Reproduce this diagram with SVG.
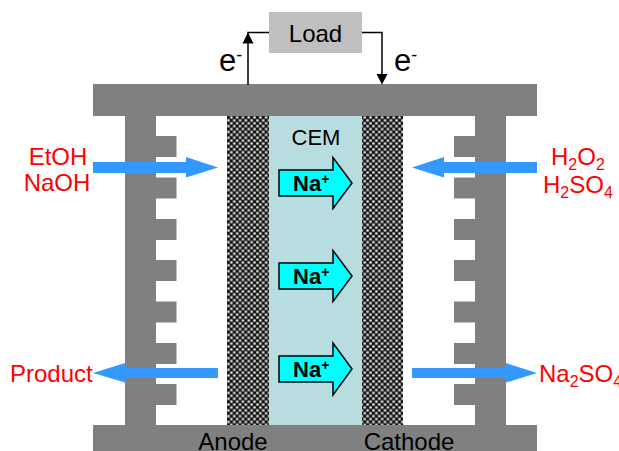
<svg xmlns="http://www.w3.org/2000/svg" width="619" height="451" viewBox="0 0 619 451">
<style>
.plate{fill:#808080}
.blue{fill:#3399ff}
.ion{fill:#00ffff;stroke:#000;stroke-width:1.5;stroke-linejoin:miter}
.wire{fill:none;stroke:#000;stroke-width:1.5}
text{font-family:"Liberation Sans",Arial,sans-serif}
.t{font-size:24px;fill:#000}
.c{font-size:22px;fill:#000}
.e{font-size:31px;fill:#000}
.sup{font-size:18px}
.r{font-size:24px;fill:#ff0000}
.sub{font-size:16px}
.n{font-size:22px;font-weight:bold;fill:#000}
.nsup{font-size:14px}
</style>
<defs>
<pattern id="mesh" x="227" y="116" width="5.8" height="5.8" patternUnits="userSpaceOnUse">
<rect width="5.8" height="5.8" fill="#2a2a2a"/>
<circle cx="1.45" cy="1.45" r="1.05" fill="#000"/>
<circle cx="4.35" cy="4.35" r="1.05" fill="#000"/>
<circle cx="4.35" cy="1.45" r="1.25" fill="#e8e8e8"/>
<circle cx="1.45" cy="4.35" r="1.25" fill="#e8e8e8"/>
</pattern>
</defs>
<rect width="619" height="451" fill="#fff"/>
<g id="membrane">
<rect x="269" y="116" width="93" height="309" fill="#b7dde1"/>
<text class="c" x="316" y="145" text-anchor="middle">CEM</text>
</g>
<g id="anode-layer"><rect x="227" y="116" width="42" height="309" fill="url(#mesh)"/></g>
<g id="cathode-layer"><rect x="362" y="116" width="41" height="309" fill="url(#mesh)"/></g>
<g id="left-plate" class="plate">
<rect x="125" y="116" width="31" height="309"/>
<rect x="156" y="136" width="20.500" height="21"/>
<rect x="156" y="177.500" width="20.500" height="21"/>
<rect x="156" y="219" width="20.500" height="21"/>
<rect x="156" y="260" width="20.500" height="21"/>
<rect x="156" y="301.500" width="20.500" height="21"/>
<rect x="156" y="343" width="20.500" height="21"/>
<rect x="156" y="384" width="20.500" height="21"/>
</g>
<g id="right-plate" class="plate">
<rect x="475" y="116" width="31" height="309"/>
<rect x="454" y="136" width="21" height="21"/>
<rect x="454" y="177.500" width="21" height="21"/>
<rect x="454" y="219" width="21" height="21"/>
<rect x="454" y="260" width="21" height="21"/>
<rect x="454" y="301.500" width="21" height="21"/>
<rect x="454" y="343" width="21" height="21"/>
<rect x="454" y="384" width="21" height="21"/>
</g>
<g id="top-plate"><rect class="plate" x="93" y="84" width="444" height="32"/></g>
<g id="bottom-plate">
<rect class="plate" x="93" y="425" width="444" height="26"/>
<text class="t" x="233" y="449.500" text-anchor="middle">Anode</text>
<text class="t" x="409" y="449.500" text-anchor="middle">Cathode</text>
</g>
<g id="load">
<rect x="269" y="12" width="93" height="41" fill="#bfbfbf"/>
<text class="t" x="315.500" y="42" text-anchor="middle">Load</text>
</g>
<g id="connectors">
<path class="wire" d="M269 32.500H248V85"/>
<path d="M248 32.500L253.500 43.500H242.500Z" fill="#000"/>
<path class="wire" d="M362 32.500H382V75"/>
<path d="M382 84.500L376.500 74H387.500Z" fill="#000"/>
<path class="blue" d="M93 162H186V157L218 167.500L186 177.500V173H93Z"/>
<path class="blue" d="M537 162H444V157L412 167.500L444 177.500V173H537Z"/>
<path class="blue" d="M218 368H125V363L93 373L125 382.500V378H218Z"/>
<path class="blue" d="M412 368H506V363L537 373L506 382.500V378H412Z"/>
</g>
<g id="ion-1">
<path class="ion" d="M279 170H333V157.500L352 183L333 208.500V196H279Z"/>
<text class="n" x="293" y="191">Na<tspan class="nsup" dy="-7">+</tspan></text>
</g>
<g id="ion-2">
<path class="ion" d="M279 263H333V250.500L352 276L333 301.500V289H279Z"/>
<text class="n" x="293" y="284">Na<tspan class="nsup" dy="-7">+</tspan></text>
</g>
<g id="ion-3">
<path class="ion" d="M279 356H333V343L352 369L333 395V382H279Z"/>
<text class="n" x="293" y="377">Na<tspan class="nsup" dy="-7">+</tspan></text>
</g>
<g id="labels">
<text class="e" x="219" y="71">e<tspan class="sup" dy="-10">-</tspan></text>
<text class="e" x="394" y="71">e<tspan class="sup" dy="-10">-</tspan></text>
<text class="r" x="58" y="165" text-anchor="middle">EtOH</text>
<text class="r" x="57" y="191" text-anchor="middle">NaOH</text>
<text class="r" x="551" y="165">H<tspan class="sub" dy="5">2</tspan><tspan dy="-5">O</tspan><tspan class="sub" dy="5">2</tspan></text>
<text class="r" x="543" y="193">H<tspan class="sub" dy="5">2</tspan><tspan dy="-5">SO</tspan><tspan class="sub" dy="5">4</tspan></text>
<text class="r" x="10" y="382">Product</text>
<text class="r" x="539" y="382">Na<tspan class="sub" dy="5">2</tspan><tspan dy="-5">SO</tspan><tspan class="sub" dy="5">4</tspan></text>
</g>
</svg>
